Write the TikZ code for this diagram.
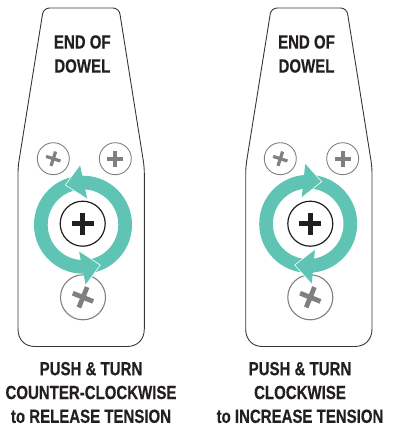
\documentclass[tikz,border=0pt]{standalone}
\usepackage{fontspec}
\setmainfont{Liberation Sans}[BoldFeatures={FakeStretch=0.79,FakeBold=0.35}]
\definecolor{teal}{HTML}{5FC4B4}
\definecolor{ink}{HTML}{231F20}
\definecolor{screw}{HTML}{808080}
\tikzset{
  outline/.style={draw=ink!90,line width=0.9pt,line join=round},
  smallscrew/.style={circle,draw=screw,line width=0.9pt,minimum size=32pt,inner sep=0pt,fill=white},
  bigscrew/.style={circle,draw=screw,line width=1.1pt,minimum size=45pt,inner sep=0pt,fill=white},
  mainscrew/.style={circle,draw=ink,line width=1.2pt,minimum size=45pt,inner sep=0pt,fill=white},
  capt/.style={font=\fontsize{19}{23.8}\selectfont\bfseries,text=ink,align=center,inner sep=0pt},
  dowel/.style={font=\fontsize{19}{24}\selectfont\bfseries,text=ink,align=center,inner sep=0pt},
  headedge/.style={white,line width=0.6pt},
}
\newcommand{\plusmark}[5]{% centre, half length, half thickness, angle, colour
  \begin{scope}[shift={#1},rotate=#4]
    \fill[#5] (-#2,-#3) rectangle (#2,#3);
    \fill[#5] (-#3,-#2) rectangle (#3,#2);
  \end{scope}}
\newcommand{\bodyshape}{%
  \draw[outline,rounded corners=6pt] (18,329) -- (18,167) -- (43.5,8) -- (119,8) -- (144.3,167) -- (144.3,329);
  \draw[outline] (18,329) .. controls (18,340) and (25,346.5) .. (35,346.5) -- (127,346.5) .. controls (137,346.5) and (144.3,340) .. (144.3,329);}
\begin{document}
\begin{tikzpicture}[x=1pt,y=-1pt]
\useasboundingbox (0,0) rectangle (400,429);
% ---------- left panel
\bodyshape
\node[smallscrew] (la) at (53.3,158.7) {};
\node[smallscrew] (lb) at (115.3,158.7) {};
\node[bigscrew] (lc) at (83,297.3) {};
\plusmark{(la)}{7.5}{1.6}{-18}{screw}
\plusmark{(lb)}{8}{1.9}{0}{screw}
\plusmark{(lc)}{11}{2.4}{-22}{screw}
\fill[teal,even odd rule] (83,224.7) circle (49) circle (35.3);
\fill[teal] (65.3,185) -- (80,165) -- (87.3,199) -- cycle;
\draw[headedge] (80,165) -- (65.3,185) -- (87.3,199);
\fill[teal] (100.3,265) -- (85.7,285) -- (79,251) -- cycle;
\draw[headedge] (85.7,285) -- (100.3,265) -- (79,251);
\node[mainscrew] (lm) at (82.7,223.7) {};
\plusmark{(lm)}{11}{2.6}{0}{ink}
\node[dowel] (lt) at (82.3,54) {END OF\\DOWEL};
\node[capt] (lcap) at (91,392.5) {PUSH \& TURN\\COUNTER-CLOCKWISE\\to RELEASE TENSION};
% ---------- right panel
\begin{scope}[xshift=227.7pt]
\bodyshape
\node[smallscrew] (ra) at (52.6,158.7) {};
\node[smallscrew] (rb) at (115,158.7) {};
\node[bigscrew] (rc) at (82.6,297.3) {};
\plusmark{(ra)}{7.5}{1.6}{-18}{screw}
\plusmark{(rb)}{8}{1.9}{0}{screw}
\plusmark{(rc)}{11}{2.4}{-22}{screw}
\end{scope}
\fill[teal,even odd rule] (308.2,223.8) circle (49) circle (35.3);
\fill[teal] (321.7,181.7) -- (305.3,163.3) -- (301.7,197.7) -- cycle;
\draw[headedge] (305.3,163.3) -- (321.7,181.7) -- (301.7,197.7);
\fill[teal] (294.7,265) -- (311.7,284) -- (315,249.3) -- cycle;
\draw[headedge] (311.7,284) -- (294.7,265) -- (315,249.3);
\node[mainscrew] (rm) at (310.3,223.7) {};
\plusmark{(rm)}{11}{2.6}{0}{ink}
\node[dowel] (rt) at (306.5,54) {END OF\\DOWEL};
\node[capt] (rcap) at (300,392.5) {PUSH \& TURN\\CLOCKWISE\\to INCREASE TENSION};
\end{tikzpicture}
\end{document}
